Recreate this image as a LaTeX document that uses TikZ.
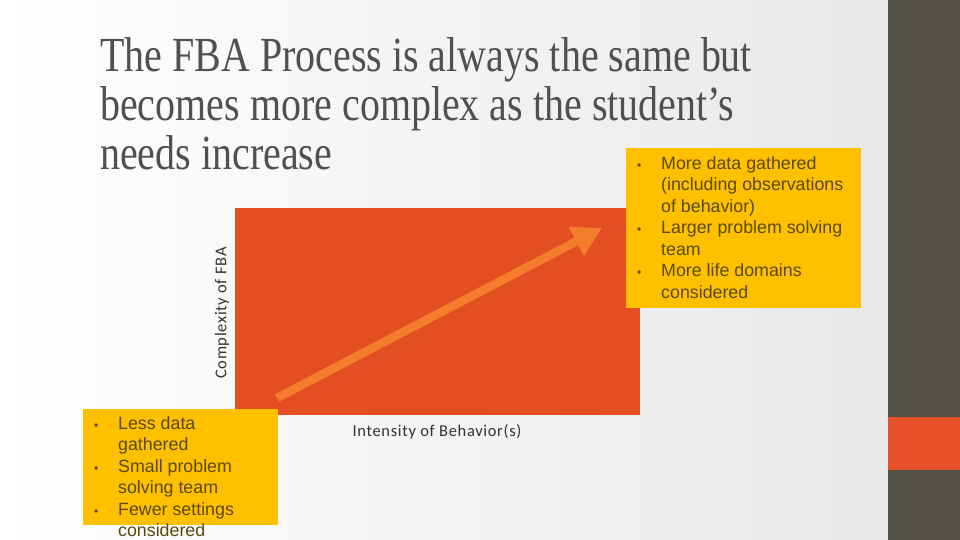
\documentclass[tikz,border=0pt]{standalone}
\usepackage{fontspec}
\setmainfont{Liberation Serif}
\newfontfamily\arialf{Liberation Sans}
\newfontfamily\calf[LetterSpace=4]{Carlito}
\usetikzlibrary{arrows.meta}
\definecolor{bandgray}{HTML}{535148}
\definecolor{chartred}{HTML}{E34F23}
\definecolor{arroworange}{HTML}{F47D2C}
\definecolor{boxyellow}{HTML}{FFC000}
\definecolor{bandorange}{HTML}{E5502A}
\definecolor{titlegray}{HTML}{505050}
\definecolor{bullettext}{HTML}{5A4A08}
\definecolor{labelgray}{HTML}{333333}
\tikzset{
  notebox/.style={fill=boxyellow, draw=none},
  notetext/.style={anchor=north west, inner sep=0pt, align=left, text=bullettext,
    font=\arialf\fontsize{17.8}{21.5}\selectfont},
  axislabel/.style={inner sep=0pt, text=labelgray, font=\calf\fontsize{16.5}{18}\selectfont},
  titletext/.style={anchor=north west, inner sep=0pt, align=left, text=titlegray,
    font=\fontsize{49}{49}\selectfont},
  growth/.style={draw=arroworange, line width=8.5pt, -{Triangle[width=31pt,length=29pt]}}
}
\newcommand{\bul}{\llap{\hbox to 24pt{\fontsize{12}{12}\selectfont\textbullet\hfil}}}
\newcommand{\narrow}[1]{\scalebox{0.816}[1]{#1}}
\begin{document}
\begin{tikzpicture}[x=1pt,y=-1pt]
  \useasboundingbox (0,0) rectangle (960,540);
  % background
  \shade[left color=white, right color=black!9] (0,0) rectangle (888,540);
  \fill[bandgray] (888,0) rectangle (960,540);
  \fill[bandorange] (888,417) rectangle (960,470);
  % title
  \node[titletext] (title) at (100,37) {\narrow{The FBA Process is always the same but}\\\narrow{becomes more complex as the student’s}\\\narrow{needs increase}};
  % chart
  \node[fill=chartred, inner sep=0pt, minimum width=405pt, minimum height=207pt, anchor=north west] (chart) at (235,208) {};
  \coordinate (arrstart) at (277,398);
  \coordinate (arrend) at (602,228);
  \draw[growth] (arrstart) -- (arrend);
  \node[axislabel, rotate=90] (ylabel) at (222,313) {Complexity of FBA};
  \node[axislabel] (xlabel) at (437,432) {Intensity of Behavior(s)};
  % note boxes
  \node[notebox, inner sep=0pt, minimum width=235pt, minimum height=160pt, anchor=north west] (rightbox) at (626,148) {};
  \node[notetext] (righttext) at (661,156) {\bul More data gathered\\(including observations\\of behavior)\\\bul Larger problem solving\\team\\\bul More life domains\\considered};
  \node[notebox, inner sep=0pt, minimum width=195pt, minimum height=116pt, anchor=north west] (leftbox) at (83,409) {};
  \node[notetext] (lefttext) at (118,416) {\bul Less data\\gathered\\\bul Small problem\\solving team\\\bul Fewer settings\\considered};
\end{tikzpicture}
\end{document}
